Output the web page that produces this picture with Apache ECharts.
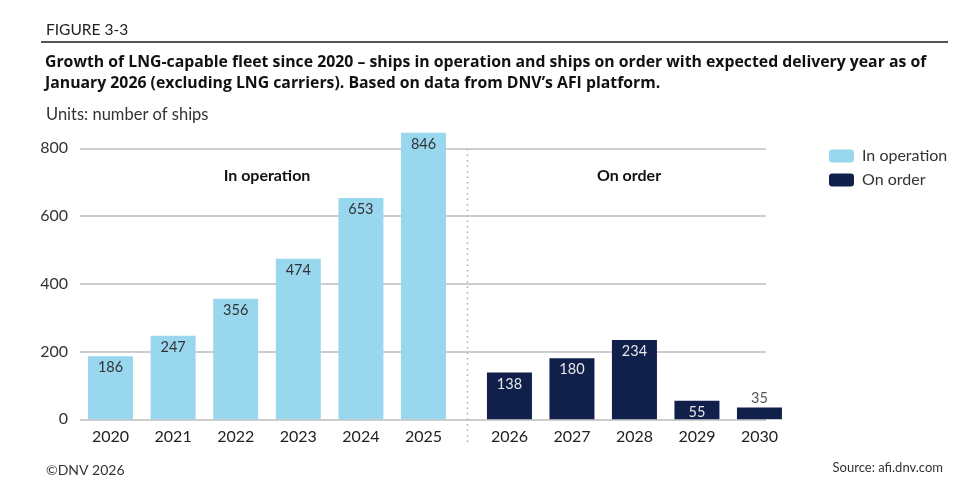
<!DOCTYPE html>
<html>
<head>
<meta charset="utf-8">
<script src="https://cdn.jsdelivr.net/npm/echarts@6/dist/echarts.min.js"></script>
<style>
  html, body { margin: 0; padding: 0; background: #fff; }
  #main { width: 976px; height: 489px; }
</style>
</head>
<body>
<div id="main"></div>
<script>
// data
var yearsOperation = ['2020', '2021', '2022', '2023', '2024', '2025'];
var shipsOperation = [186, 247, 356, 474, 653, 846];
var yearsOrder = ['2026', '2027', '2028', '2029', '2030'];
var shipsOrder = [138, 180, 234, 55, 35];
var yTicks = [0, 200, 400, 600, 800];

var FONT = 'Lato';
var lightBlue = '#99d7ee';
var navy = '#10204b';

// short bars get their label on top
function withLabels(values, insideColor) {
    return values.map(function (v) {
        if (v < 45) {
            return { value: v, label: { position: 'top', color: '#555', distance: 2 } };
        }
        return { value: v, label: { color: insideColor } };
    });
}

var yMax = yTicks[yTicks.length - 1];
var gridTop = 148.3;
var gridBottom = 489 - 419.3;

var option = {
    animation: false,
    textStyle: { fontFamily: FONT },
    title: [{
        text: 'FIGURE 3-3',
        left: 41, top: 17,
        textStyle: { fontFamily: FONT, fontSize: 15.5, fontWeight: 'normal', color: '#222' }
    }, {
        text: 'Growth of LNG-capable fleet since 2020 \u2013 ships in operation and ships on order with expected delivery year as of\nJanuary 2026 (excluding LNG carriers). Based on data from DNV\u2019s AFI platform.',
        left: 40, top: 47,
        textStyle: { fontFamily: 'Open Sans', fontSize: 15.8, fontWeight: 'bold', color: '#111', lineHeight: 21 }
    }, {
        text: 'Units: number of ships',
        left: 41, top: 101,
        textStyle: { fontFamily: FONT, fontSize: 16.5, fontWeight: 'normal', color: '#333' }
    }, {
        text: '\u00a9DNV 2026',
        left: 41, top: 458,
        textStyle: { fontFamily: FONT, fontSize: 14, fontWeight: 'normal', color: '#333' }
    }, {
        text: 'Source: afi.dnv.com',
        right: 28, top: 456,
        textStyle: { fontFamily: FONT, fontSize: 13, fontWeight: 'normal', color: '#333' }
    }],
    legend: {
        orient: 'vertical',
        left: 824, top: 143,
        itemWidth: 25, itemHeight: 13,
        itemGap: 8,
        data: ['In operation', 'On order'],
        textStyle: { fontFamily: FONT, fontSize: 16, color: '#333', padding: [0, 0, 0, 3] }
    },
    graphic: [{
        type: 'line',
        shape: { x1: 41, y1: 42, x2: 948, y2: 42 },
        style: { stroke: '#555', lineWidth: 2 }
    }, {
        type: 'line',
        shape: { x1: 467.5, y1: 149, x2: 467.5, y2: 444 },
        style: { stroke: '#aaa', lineWidth: 1.5, lineDash: [1.5, 4] }
    }, {
        type: 'text',
        x: 267, y: 176,
        style: { text: 'In operation', font: 'bold 16px ' + FONT, fill: '#111', align: 'center', verticalAlign: 'middle' }
    }, {
        type: 'text',
        x: 629, y: 176,
        style: { text: 'On order', font: 'bold 16px ' + FONT, fill: '#111', align: 'center', verticalAlign: 'middle' }
    }],
    grid: [
        { left: 80, right: 976 - 766, top: gridTop, bottom: gridBottom },
        { left: 79.2, width: 375.6, top: gridTop, bottom: gridBottom },
        { left: 478.2, width: 312.5, top: gridTop, bottom: gridBottom }
    ],
    xAxis: [
        { gridIndex: 0, type: 'value', show: false },
        {
            gridIndex: 1, type: 'category', data: yearsOperation,
            axisLine: { show: false }, axisTick: { show: false },
            axisLabel: { fontFamily: FONT, fontSize: 16, color: '#222', margin: 10 }
        },
        {
            gridIndex: 2, type: 'category', data: yearsOrder,
            axisLine: { show: false }, axisTick: { show: false },
            axisLabel: { fontFamily: FONT, fontSize: 16, color: '#222', margin: 10 }
        }
    ],
    yAxis: [
        {
            gridIndex: 0, type: 'value', min: 0, max: yMax, interval: 200,
            axisLine: { show: false }, axisTick: { show: false },
            axisLabel: { fontFamily: FONT, fontSize: 16, color: '#333', margin: 12 },
            splitLine: { lineStyle: { color: '#bdbdbd', width: 1.5 } }
        },
        { gridIndex: 1, type: 'value', min: 0, max: yMax, show: false, splitLine: { show: false } },
        { gridIndex: 2, type: 'value', min: 0, max: yMax, show: false, splitLine: { show: false } }
    ],
    series: [{
        name: 'In operation',
        type: 'bar',
        xAxisIndex: 1, yAxisIndex: 1,
        barWidth: 45,
        clip: false,
        itemStyle: { color: lightBlue },
        label: { show: true, position: 'insideTop', distance: 4, fontFamily: FONT, fontSize: 14.5 },
        data: withLabels(shipsOperation, '#333')
    }, {
        name: 'On order',
        type: 'bar',
        xAxisIndex: 2, yAxisIndex: 2,
        barWidth: 45,
        clip: false,
        itemStyle: { color: navy },
        label: { show: true, position: 'insideTop', distance: 4, fontFamily: FONT, fontSize: 14.5 },
        data: withLabels(shipsOrder, '#e6e6e6')
    }]
};

var chart = echarts.init(document.getElementById('main'));
chart.setOption(option);
</script>
</body>
</html>
